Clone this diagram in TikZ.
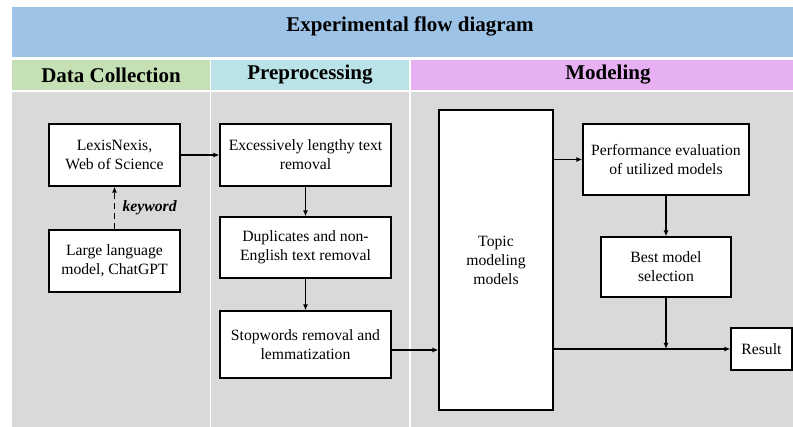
\documentclass[tikz,border=0pt]{standalone}
\usepackage{fontspec}
\setmainfont{Liberation Serif}
\usetikzlibrary{arrows.meta}
\definecolor{titleblue}{RGB}{157,195,230}
\definecolor{hgreen}{RGB}{197,224,180}
\definecolor{hcyan}{RGB}{186,227,232}
\definecolor{hpink}{RGB}{230,176,242}
\definecolor{bodygray}{RGB}{217,217,217}
\begin{document}
\begin{tikzpicture}[x=1pt,y=-1pt,
  box/.style={draw=black, line width=1.2pt, fill=white, align=center,
    font=\fontsize{15.7}{19}\selectfont, inner sep=0pt},
  arr/.style={line width=1.4pt, -{Latex[length=6pt,width=5pt]}},
  hdr/.style={font=\bfseries\fontsize{21}{25}\selectfont}]
\useasboundingbox (0,0) rectangle (793,427);
\fill[white] (0,0) rectangle (793,427);
% backgrounds
\fill[titleblue] (12,7) rectangle (793,57);
\fill[hgreen] (12,60) rectangle (209.5,90);
\fill[hcyan] (211,60) rectangle (408.5,90);
\fill[hpink] (410.5,60) rectangle (793,90);
\fill[bodygray] (12,92) rectangle (209.5,427);
\fill[bodygray] (211,92) rectangle (408.5,427);
\fill[bodygray] (410.5,92) rectangle (793,427);
% titles
\node[font=\bfseries\fontsize{21}{25}\selectfont] (title) at (410,26) {Experimental flow diagram};
\node[hdr] (h1) at (111,75) {Data Collection};
\node[hdr] (h2) at (310,75) {Preprocessing};
\node[hdr] (h3) at (608,75) {Modeling};
% boxes
\node[box, minimum width=131pt, minimum height=62pt] (lexis) at (114.5,155) {LexisNexis,\\Web of Science};
\node[box, minimum width=131pt, minimum height=62pt] (llm) at (114.5,261) {Large language\\model, ChatGPT};
\node[box, minimum width=171pt, minimum height=62pt] (exc) at (305.5,155) {Excessively lengthy text\\removal};
\node[box, minimum width=171pt, minimum height=61pt] (dup) at (305.5,247.5) {Duplicates and non-\\English text removal};
\node[box, minimum width=171pt, minimum height=67pt] (stop) at (305.5,344.5) {Stopwords removal and\\lemmatization};
\node[box, minimum width=114pt, minimum height=300pt] (topic) at (496,260) {Topic\\modeling\\models};
\node[box, minimum width=166pt, minimum height=71pt] (perf) at (666,159.5) {Performance evaluation\\of utilized models};
\node[box, minimum width=130pt, minimum height=60pt] (best) at (666,267) {Best model\\selection};
\node[box, minimum width=61pt, minimum height=42pt] (result) at (761.5,349) {Result};
% connectors
\draw[arr] (lexis.east) -- (exc.west);
\draw[arr, dashed, dash pattern=on 6pt off 4pt] (llm.north) -- (lexis.south)
  node[midway, right=4pt, font=\bfseries\itshape\fontsize{15.7}{19}\selectfont] (kw) {keyword};
\draw[arr] (exc.south) -- (dup.north);
\draw[arr] (dup.south) -- (stop.north);
\draw[arr] (stop.east |- 0,350) -- (topic.west |- 0,350);
\draw[arr] (topic.east |- perf.west) -- (perf.west);
\draw[arr] (perf.south) -- (best.north);
\draw[arr] (topic.east |- result.west) -- (result.west);
\coordinate (join) at (best.south |- result.west);
\draw[arr] (best.south) -- (join);
\end{tikzpicture}
\end{document}
